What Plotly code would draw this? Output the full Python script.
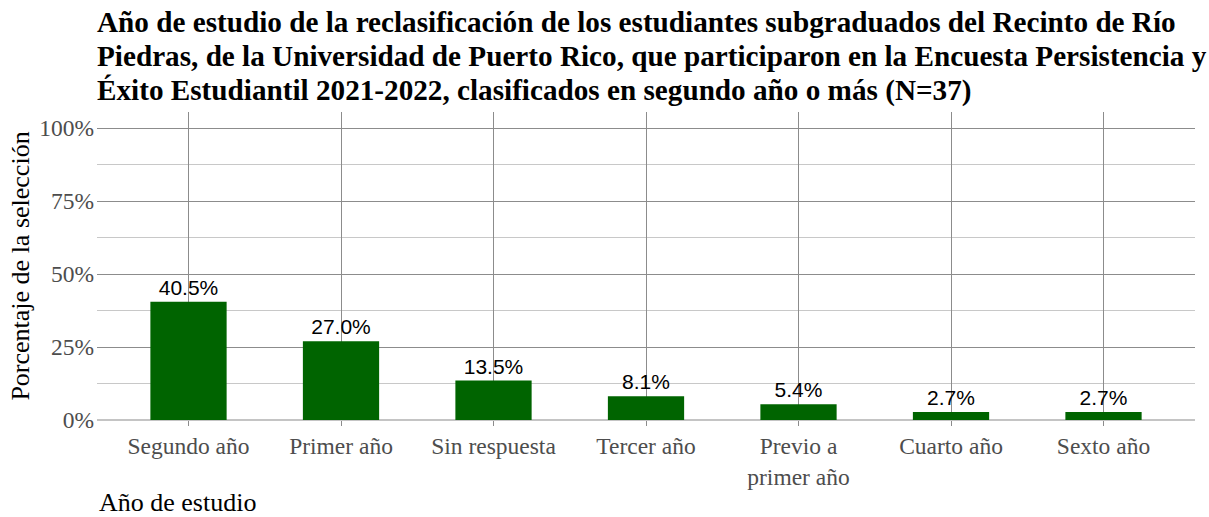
import plotly.graph_objects as go

categories = ["Segundo año", "Primer año", "Sin respuesta", "Tercer año",
              "Previo a<br>primer año", "Cuarto año", "Sexto año"]
values = [0.405, 0.270, 0.135, 0.081, 0.054, 0.027, 0.027]
labels = ["40.5%", "27.0%", "13.5%", "8.1%", "5.4%", "2.7%", "2.7%"]
y_ticks = [0, 0.25, 0.5, 0.75, 1.0]
y_tick_labels = ["0%", "25%", "50%", "75%", "100%"]

title_lines = [
    "Año de estudio de la reclasificación de los estudiantes subgraduados del Recinto de Río",
    "Piedras, de la Universidad de Puerto Rico, que participaron en la Encuesta Persistencia y",
    "Éxito Estudiantil 2021-2022, clasificados en segundo año o más (N=37)",
]
title_centers_px = [22, 56, 90]

serif = "Liberation Serif, Times New Roman, serif"
sans = "Liberation Sans, Arial, sans-serif"

TOP = 112

fig = go.Figure(go.Bar(
    x=list(range(len(categories))), y=values, width=0.5,
    marker=dict(color="#006400", line=dict(width=0)),
    text=labels, textposition="outside", cliponaxis=False,
    textfont=dict(family=sans, size=21, color="black"),
))

annotations = []
for line, cy in zip(title_lines, title_centers_px):
    annotations.append(dict(
        text="<b>" + line + "</b>", xref="paper", yref="paper",
        x=0, y=1, xshift=-2, yshift=TOP - cy, xanchor="left", yanchor="middle", align="left",
        showarrow=False, font=dict(family=serif, size=29.2, color="black")))
annotations.append(dict(
    text="Año de estudio", xref="paper", yref="paper", x=0, y=0, yshift=-(502 - 420),
    xanchor="left", yanchor="middle", showarrow=False,
    font=dict(family=serif, size=26, color="black")))

fig.update_layout(
    width=1209, height=517,
    margin=dict(l=97, r=14, t=TOP, b=97),
    plot_bgcolor="white", paper_bgcolor="white",
    showlegend=False,
    xaxis=dict(
        range=[-0.6, 6.6], tickmode="array", tickvals=list(range(len(categories))),
        ticktext=categories, showgrid=True, gridcolor="#8c8c8c", gridwidth=1,
        ticks="outside", ticklen=5, tickcolor="#8c8c8c",
        tickfont=dict(family=serif, size=23.5, color="#4d4d4d"),
        zeroline=False, showline=False,
    ),
    yaxis=dict(
        range=[0, 1.055], tickmode="array", tickvals=y_ticks, ticktext=y_tick_labels,
        showgrid=True, gridcolor="#8c8c8c", gridwidth=1,
        minor=dict(dtick=0.125, tick0=0, showgrid=True, gridcolor="#c8c8c8", gridwidth=1),
        ticks="", ticklabelstandoff=2, tickfont=dict(family=serif, size=23.5, color="#4d4d4d"),
        zeroline=True, zerolinecolor="#c4c4c4", zerolinewidth=2, showline=False,
        title=dict(text="Porcentaje de la selección", font=dict(family=serif, size=26, color="black"),
                   standoff=2),
    ),
    annotations=annotations,
)

fig.write_html("out.html", config={"displayModeBar": False},
               post_script="document.body.style.margin='0';")
